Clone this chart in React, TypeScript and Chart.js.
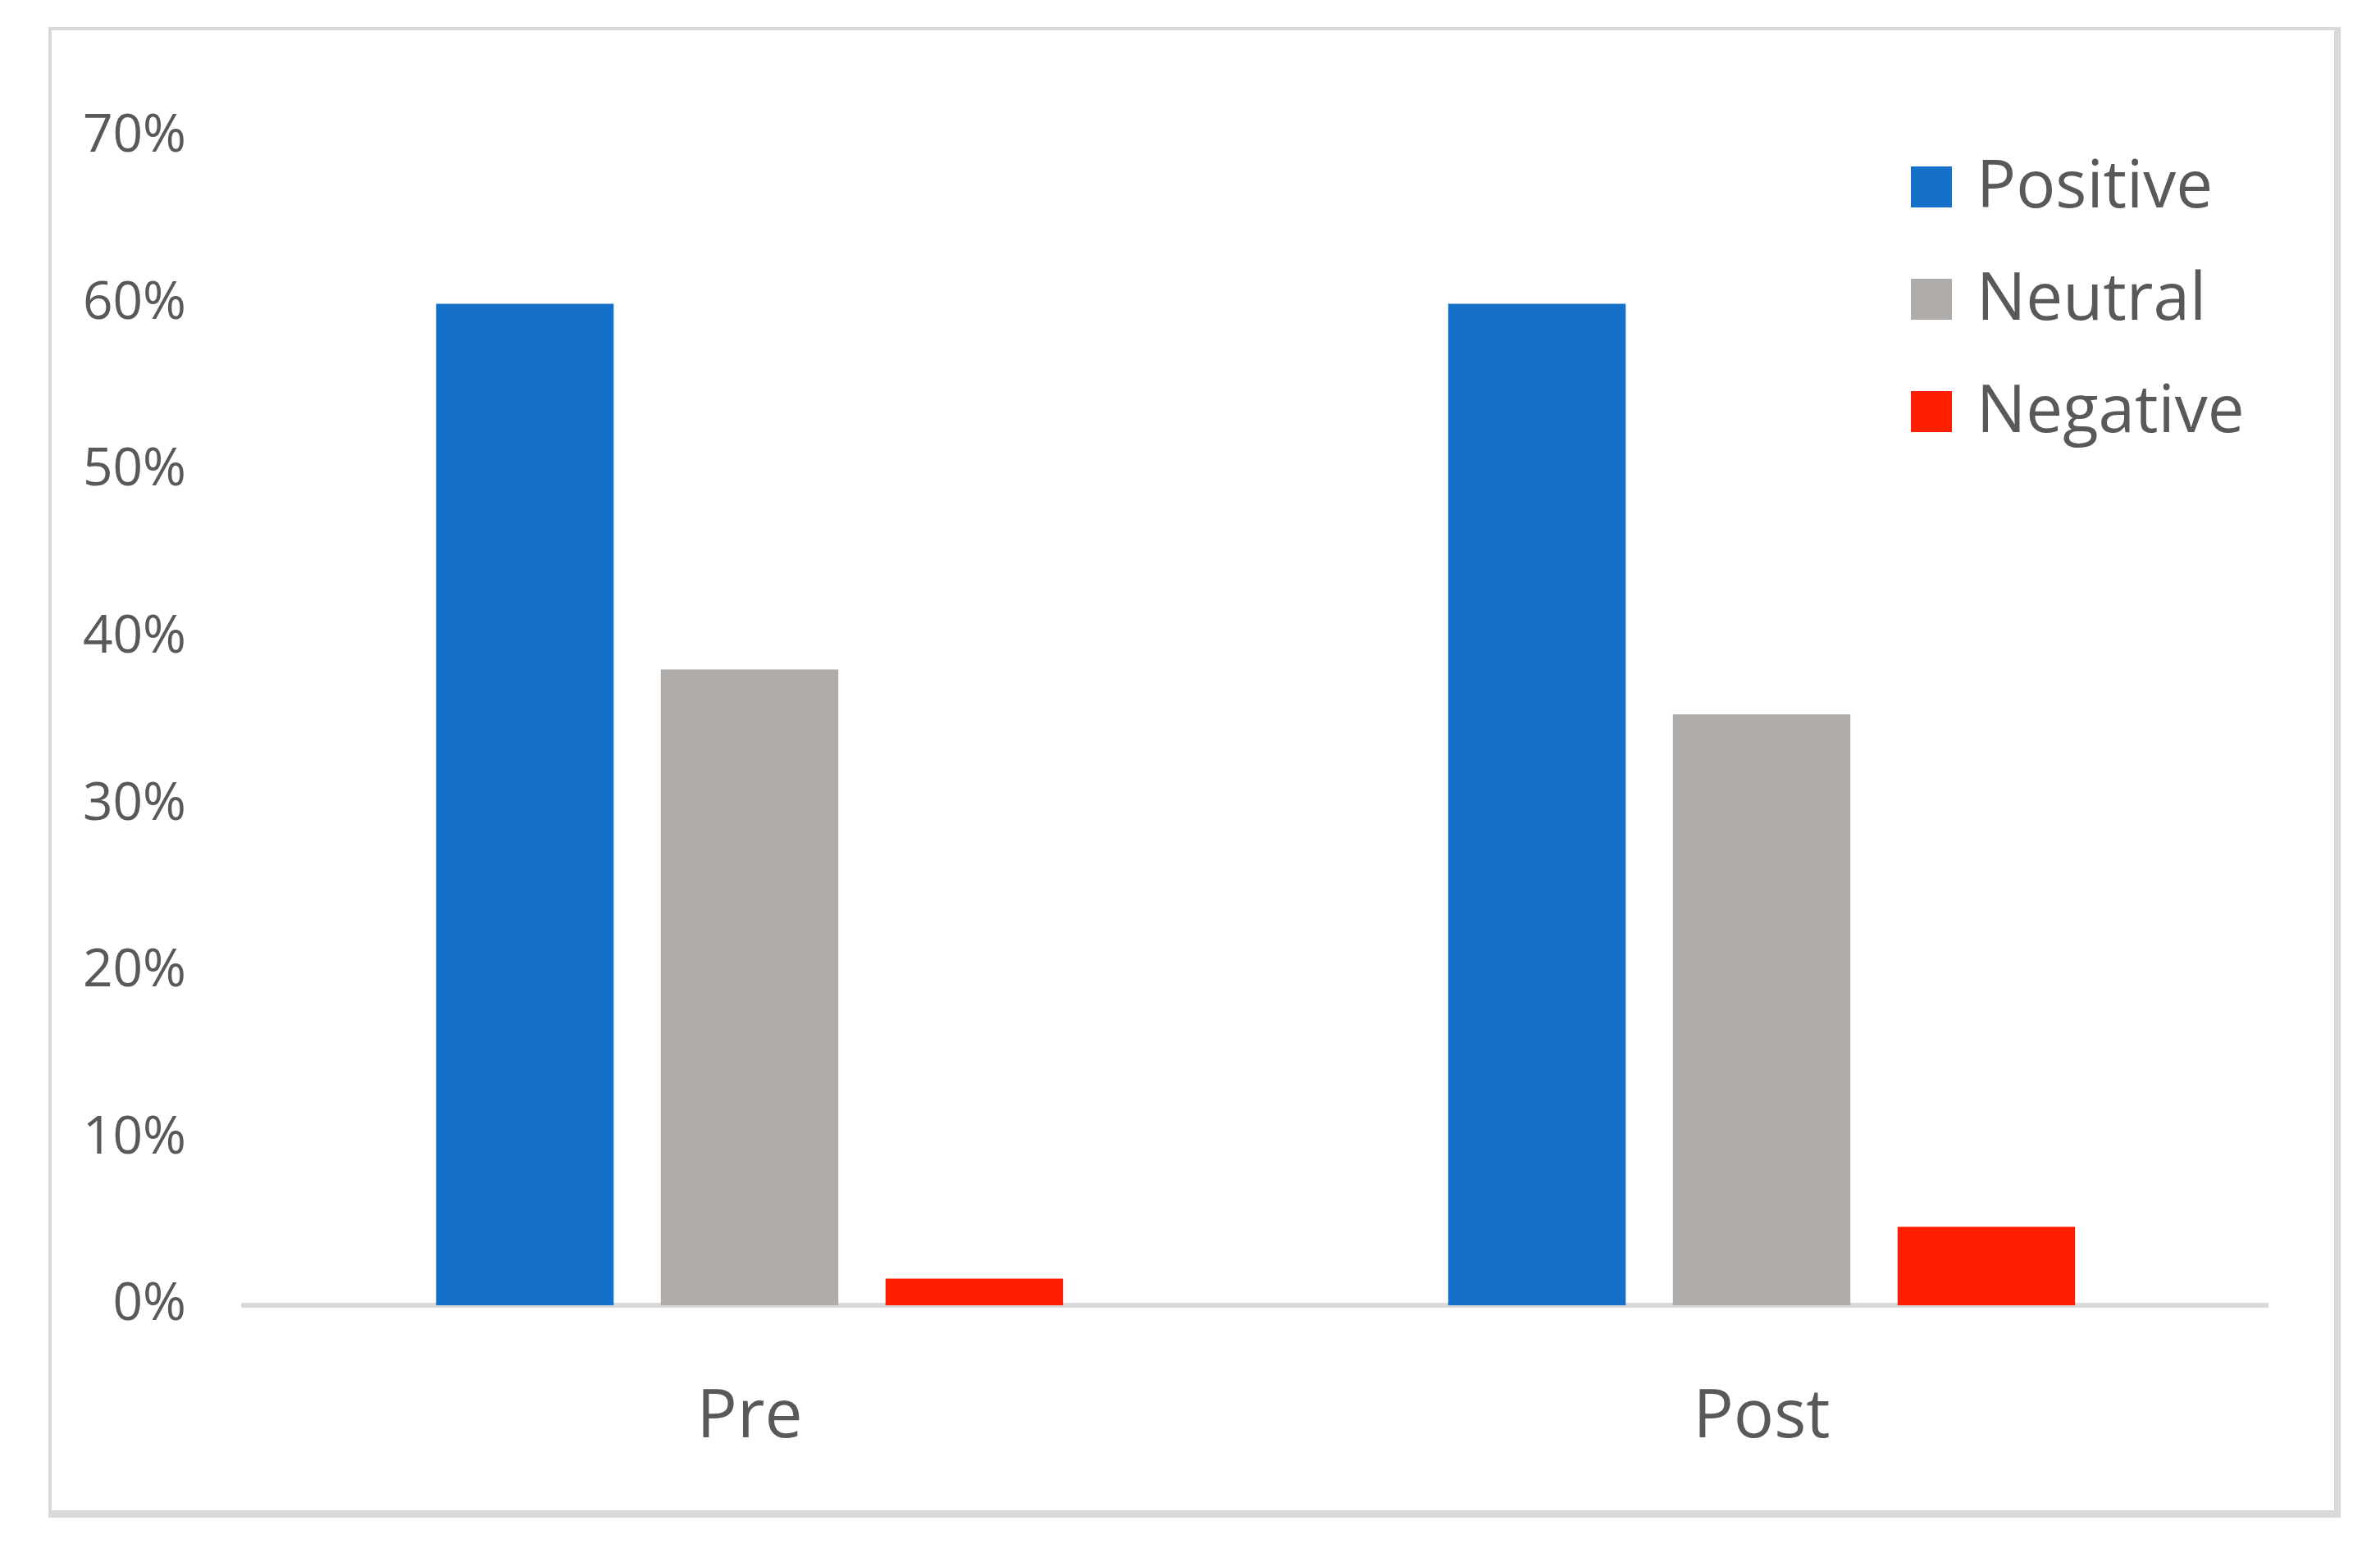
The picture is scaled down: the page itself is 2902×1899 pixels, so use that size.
import React, { useEffect, useRef } from "react";
import { Chart, registerables } from "chart.js";

Chart.register(...registerables);

const categories = ["Pre", "Post"];
const seriesNames = ["Positive", "Neutral", "Negative"];
const positiveValues = [60, 60];
const neutralValues = [38.1, 35.4];
const negativeValues = [1.6, 4.7];
const seriesColors = ["#1570C8", "#B0ACA9", "#FF1E00"];
const yMin = 0;
const yMax = 70;
const yStep = 10;

const W = 2902;
const H = 1899;
const TEXT = "#595959";
const FONT = "'Open Sans', 'Noto Sans', sans-serif";

const legendPlugin = {
  id: "insideLegend",
  afterDraw(chart: any) {
    const ctx = chart.ctx;
    const area = chart.chartArea;
    const x0 = area.right - 435;
    const y0 = 228;
    const gap = 137;
    const box = 50;
    ctx.save();
    ctx.font = `80px ${FONT}`;
    ctx.textBaseline = "middle";
    ctx.textAlign = "left";
    chart.data.datasets.forEach((ds: any, i: number) => {
      const yc = y0 + i * gap;
      ctx.fillStyle = ds.backgroundColor;
      ctx.fillRect(x0, yc - box / 2, box, box);
      ctx.fillStyle = TEXT;
      ctx.fillText(ds.label, x0 + 80, yc + 2);
    });
    ctx.restore();
  },
};

export default function App() {
  const ref = useRef<HTMLCanvasElement | null>(null);

  useEffect(() => {
    if (!ref.current) return;
    const values = [positiveValues, neutralValues, negativeValues];
    const chart = new Chart(ref.current, {
      type: "bar",
      data: {
        labels: categories,
        datasets: seriesNames.map((name, i) => ({
          label: name,
          data: values[i],
          backgroundColor: seriesColors[i],
          borderWidth: 0,
          categoryPercentage: 0.666,
          barPercentage: 0.79,
        })),
      },
      options: {
        responsive: false,
        animation: false,
        layout: { padding: { left: 0, right: 137, top: 167, bottom: 0 } },
        plugins: {
          legend: { display: false },
          tooltip: { enabled: false },
        },
        scales: {
          x: {
            type: "category",
            grid: { display: false, drawTicks: false },
            border: { display: true, color: "#D9D9D9", width: 6 },
            ticks: {
              color: TEXT,
              font: { family: FONT, size: 82 },
              padding: 88,
            },
            afterFit(scale: any) {
              scale.height = 307;
            },
          },
          y: {
            min: yMin,
            max: yMax,
            grid: { display: false, drawTicks: false },
            border: { display: false },
            ticks: {
              stepSize: yStep,
              color: TEXT,
              font: { family: FONT, size: 64 },
              padding: 70,
              callback: (v: any) => `${v}%`,
            },
            afterFit(scale: any) {
              scale.width = 297;
            },
          },
        },
      },
      plugins: [legendPlugin],
    });
    return () => chart.destroy();
  }, []);

  return (
    <div
      style={{
        position: "fixed",
        left: 0,
        top: 0,
        width: W,
        height: H,
        background: "#FFFFFF",
        overflow: "hidden",
      }}
    >
      <div
        style={{
          position: "absolute",
          left: 59,
          top: 33,
          width: 2854 - 59,
          height: 1851 - 33,
          boxSizing: "border-box",
          borderLeft: "4px solid #D9D9D9",
          borderTop: "4px solid #D9D9D9",
          borderRight: "8px solid #D9D9D9",
          borderBottom: "9px solid #D9D9D9",
        }}
      />
      <canvas
        ref={ref}
        width={W}
        height={H}
        style={{ position: "absolute", left: 0, top: 0, width: W, height: H }}
      />
    </div>
  );
}
